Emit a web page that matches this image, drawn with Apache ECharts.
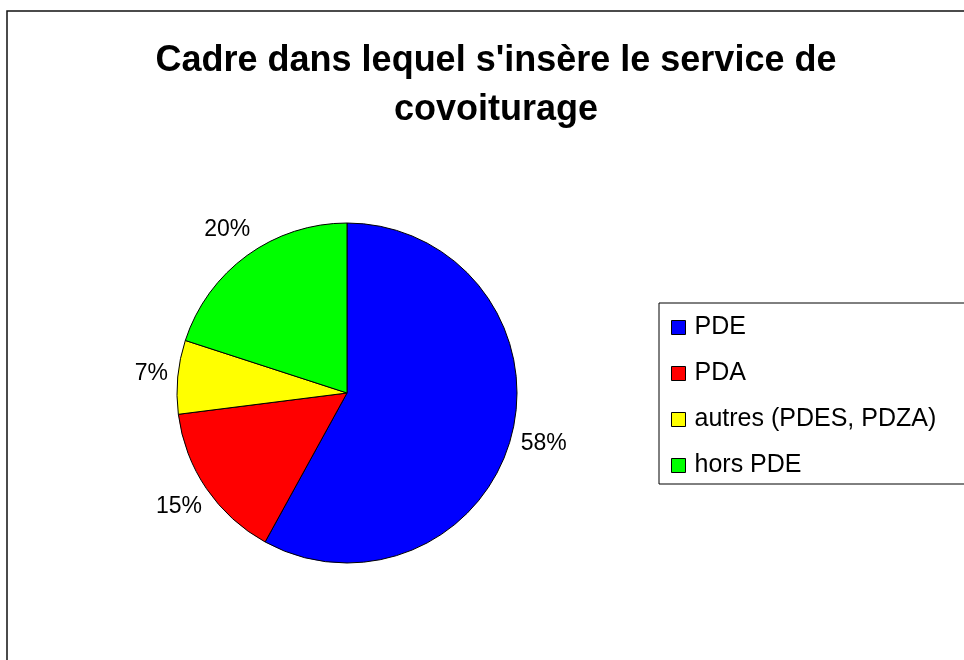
<!DOCTYPE html>
<html>
<head>
<meta charset="utf-8">
<script src="https://cdn.jsdelivr.net/npm/echarts@6/dist/echarts.min.js"></script>
<style>
  html, body { margin: 0; padding: 0; background: #fff; }
  #chart { width: 964px; height: 660px; }
</style>
</head>
<body>
<div id="chart"></div>
<script>
const categories = ['PDE', 'PDA', 'autres (PDES, PDZA)', 'hors PDE']
const shares = [58, 15, 7, 20]
const colors = ['#0000ff', '#ff0000', '#ffff00', '#00ff00']

const chart = echarts.init(document.getElementById('chart'))

const option = {
  animation: false,
  backgroundColor: '#fff',
  textStyle: { fontFamily: '"Liberation Sans", Arial, sans-serif' },
  title: {
    text: "Cadre dans lequel s'insère le service de\ncovoiturage",
    left: 491,
    top: 32,
    textAlign: 'center',
    textStyle: {
      fontFamily: '"Liberation Sans", Arial, sans-serif',
      fontSize: 36,
      fontWeight: 'bold',
      color: '#000',
      lineHeight: 49
    }
  },
  legend: {
    orient: 'vertical',
    left: 659,
    top: 303,
    padding: [12, 40, 6, 12],
    borderColor: '#000',
    borderWidth: 1,
    itemWidth: 14,
    itemHeight: 14,
    itemGap: 21,
    icon: 'rect',
    selectedMode: false,
    itemStyle: { borderColor: '#000', borderWidth: 1 },
    textStyle: {
      fontFamily: '"Liberation Sans", Arial, sans-serif',
      fontSize: 25,
      color: '#000',
      lineHeight: 25,
      padding: [0, 0, 0, 4]
    },
    data: categories
  },
  graphic: [{
    type: 'rect',
    shape: { x: 7, y: 11, width: 1100, height: 800 },
    style: { fill: 'none', stroke: '#111', lineWidth: 1.5 },
    silent: true
  }],
  series: [{
    type: 'pie',
    center: [347, 393],
    radius: 170,
    startAngle: 90,
    clockwise: true,
    avoidLabelOverlap: false,
    emphasis: { disabled: true },
    itemStyle: { borderColor: '#000', borderWidth: 1 },
    label: {
      show: true,
      position: 'outside',
      formatter: '{c}%',
      fontFamily: '"Liberation Sans", Arial, sans-serif',
      fontSize: 23,
      color: '#000',
      distanceToLabelLine: -22
    },
    labelLine: { show: false, length: 32, length2: 0 },
    data: categories.map((name, i) => ({
      name: name,
      value: shares[i],
      itemStyle: { color: colors[i] }
    }))
  }]
}

chart.setOption(option)
</script>
</body>
</html>
